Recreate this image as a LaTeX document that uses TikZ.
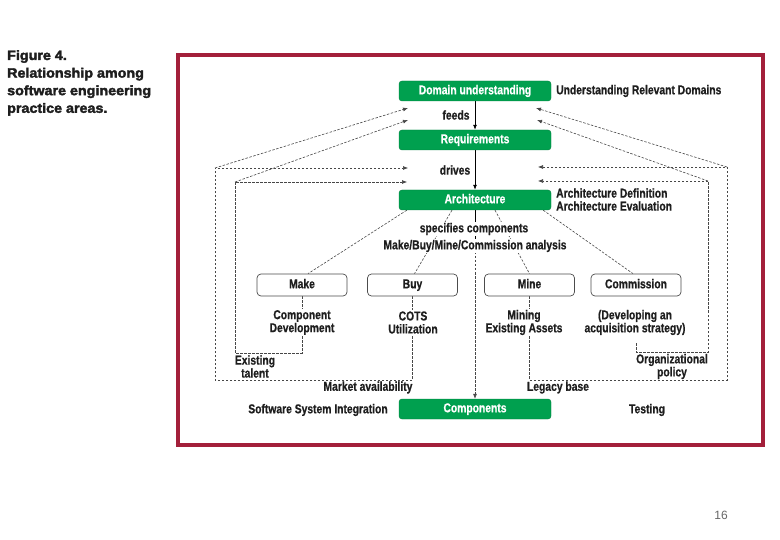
\documentclass[tikz,border=0pt]{standalone}
\usepackage{fontspec}
\setmainfont{Liberation Sans}
\newfontfamily\diafont{Liberation Sans}[FakeStretch=0.8, BoldFeatures={FakeBold=0.6}]
\newfontfamily\titlefont{Liberation Sans}[FakeStretch=1.06, BoldFeatures={FakeBold=2.5}]
\usetikzlibrary{arrows.meta,backgrounds,calc}
\definecolor{dgreen}{HTML}{00A04F}
\definecolor{framered}{HTML}{A31F3A}
\definecolor{txt}{HTML}{1E1E1E}
\begin{document}
\begin{tikzpicture}[x=1bp,y=-1bp,
  dfont/.style={font=\diafont\bfseries\fontsize{12.9bp}{13bp}\selectfont},
  gbox/.style={dfont, draw=dgreen!80!black, fill=dgreen, rounded corners=3bp, minimum width=152bp, minimum height=20bp, inner sep=0pt, text height=9.3bp, text depth=2.7bp, text=white},
  wbox/.style={dfont, draw=black!70, fill=white, rounded corners=4bp, line width=0.7bp, minimum width=90bp, minimum height=22bp, inner sep=0pt, text height=9.3bp, text depth=2.7bp, text=txt},
  lbl/.style={dfont, inner sep=1bp, text=txt, align=center},
  lblw/.style={lbl, fill=white},
  dsh/.style={draw=black!72, line width=0.6bp, dash pattern=on 2.5bp off 1.5bp},
  arr/.style={-{Latex[length=5bp,width=4bp]}},
  sol/.style={draw=black, line width=0.8bp},
]
\useasboundingbox (0,0) rectangle (780,540);
\draw[framered, line width=3.5bp] (178,55) rectangle (763,445);

\node[anchor=north west, align=left, inner sep=0pt, text=txt,
      font=\titlefont\bfseries\fontsize{13.5bp}{17.6bp}\selectfont] (title) at (7,50)
  {Figure 4.\\Relationship among\\software engineering\\practice areas.};

% main boxes
\node[gbox] (dom) at (475,91) {Domain understanding};
\node[gbox] (req) at (475,140) {Requirements};
\node[gbox] (arch) at (475,200) {Architecture};
\node[gbox] (comp) at (475,409) {Components};

\node[wbox] (make) at (302,285) {Make};
\node[wbox] (buy) at (412.5,285) {Buy};
\node[wbox] (mine) at (529.5,285) {Mine};
\node[wbox] (comm) at (636,285) {Commission};

% labels
\node[lbl, anchor=west] (urd) at (555,91) {Understanding Relevant Domains};
\node[lbl] (feeds) at (456,115) {feeds};
\node[lbl] (drives) at (455,170) {drives};
\node[lbl, anchor=west, align=left] (adef) at (555,199.5) {Architecture Definition\\Architecture Evaluation};
\node[lblw] (spec) at (474,229) {specifies components};
\node[lblw] (mbmc) at (475,246) {Make/Buy/Mine/Commission analysis};
\node[lblw] (cdev) at (302,322.5) {Component\\Development};
\node[lblw] (cots) at (413,322.5) {COTS\\Utilization};
\node[lblw] (mining) at (524,322.5) {Mining\\Existing Assets};
\node[lbl] (acq) at (635,322.5) {(Developing an\\acquisition strategy)};
\node[lbl] (talent) at (255,366.5) {Existing\\talent};
\node[lbl] (market) at (368,387.5) {Market availability};
\node[lbl] (legacy) at (558,387.5) {Legacy base};
\node[lbl] (orgpol) at (672,366.5) {Organizational\\policy};
\node[lbl] (ssi) at (318,410) {Software System Integration};
\node[lbl] (testing) at (647,410) {Testing};
\node[text=black!60, font=\fontsize{12bp}{14bp}\selectfont] (page) at (721,515) {16};

% free ends and corners
\coordinate (ilc) at (235,353);
\coordinate (il1) at (235,182);
\coordinate (ilA) at (407,182);
\coordinate (ilB) at (408,120);
\coordinate (olc) at (215,380);
\coordinate (ol1) at (215,168);
\coordinate (olA) at (408,168);
\coordinate (olB) at (408,108);
\coordinate (orc) at (727,380);
\coordinate (or1) at (727,167);
\coordinate (orA) at (538,167);
\coordinate (orB) at (536,108);
\coordinate (irs) at (636,343);
\coordinate (irc) at (708,352);
\coordinate (ir1) at (708,181);
\coordinate (irA) at (538,181);
\coordinate (irB) at (537,120);
\coordinate (amid) at (475,240);

\begin{scope}[on background layer]
  \draw[sol, arr] (dom) -- (req);
  \draw[sol, arr] (req) -- (arch);
  \draw[sol] (arch.south) -- (amid);
  \draw[dsh, arr] (amid) -- (comp.north);

  \draw[dsh] ($(arch.south west)+(8,0)$) -- ($(make.north)+(6,0)$);
  \draw[dsh] ($(arch.south)+(-23,0)$) -- ($(buy.north)+(2,0)$);
  \draw[dsh] ($(arch.south)+(20,0)$) -- (mine.north);
  \draw[dsh] ($(arch.south east)+(-8,0)$) -- ($(comm.north)+(-3,0)$);

  \draw[dsh, arr] (make.south) |- (ilc) |- (ilA);
  \draw[dsh, arr] (il1) -- (ilB);
  \draw[dsh, arr] (buy.south) |- (olc) |- (olA);
  \draw[dsh, arr] (ol1) -- (olB);
  \draw[dsh, arr] (mine.south) |- (orc) |- (orA);
  \draw[dsh, arr] (or1) -- (orB);
  \draw[dsh, arr] (irs) |- (irc) |- (irA);
  \draw[dsh, arr] (ir1) -- (irB);
\end{scope}
\end{tikzpicture}
\end{document}
